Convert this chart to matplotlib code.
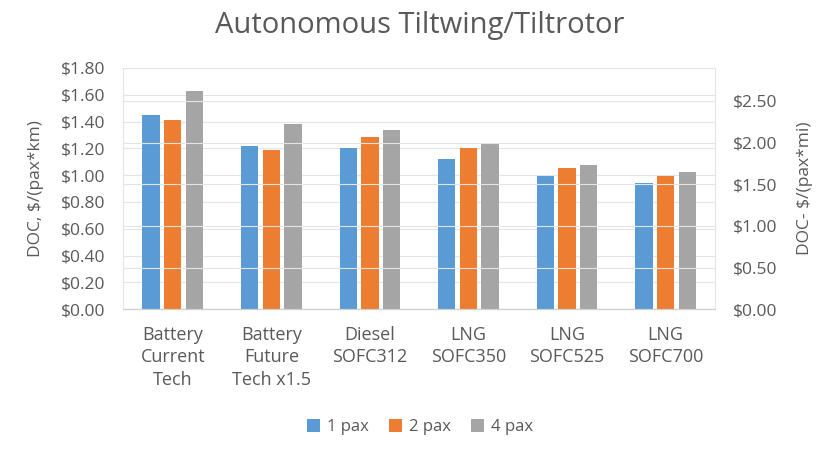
import numpy as np
import matplotlib.pyplot as plt
from matplotlib.ticker import FuncFormatter

plt.rcParams['font.family'] = ['Open Sans', 'DejaVu Sans']

categories = ["Battery\nCurrent\nTech", "Battery\nFuture\nTech x1.5", "Diesel\nSOFC312",
              "LNG\nSOFC350", "LNG\nSOFC525", "LNG\nSOFC700"]
pax1 = [1.45, 1.22, 1.20, 1.12, 0.99, 0.94]
pax2 = [1.41, 1.19, 1.285, 1.20, 1.05, 0.99]
pax4 = [1.63, 1.38, 1.34, 1.235, 1.075, 1.02]
series = [("1 pax", pax1, "#5B9BD5"), ("2 pax", pax2, "#ED7D31"), ("4 pax", pax4, "#A5A5A5")]
KM_PER_MI = 1.609

txt = "#595959"
fig = plt.figure(figsize=(8.4, 4.5), dpi=100)
ax = fig.add_axes([0.147, 0.313, 0.704, 0.536])
ax2 = ax.twinx()

x = np.arange(len(categories))
w = 0.176
step = 0.22
for i, (lab, vals, col) in enumerate(series):
    ax.bar(x + (i - 1) * step, vals, w, color=col, label=lab, zorder=3)

ax.set_xlim(-0.5, len(categories) - 0.5)
ax.set_ylim(0, 1.8)
ax.set_yticks(np.arange(0, 1.81, 0.2))
ax2.set_ylim(0, 1.8 * KM_PER_MI)
ax2.set_yticks(np.arange(0, 2.51, 0.5))

money = FuncFormatter(lambda v, p: "${:.2f}".format(v))
ax.yaxis.set_major_formatter(money)
ax2.yaxis.set_major_formatter(money)

ax.grid(axis='y', color='#E4E4E4', lw=0.8, zorder=0)
for v in np.arange(0, 2.51, 0.5):
    ax2.axhline(v, color='#E4E4E4', lw=0.8, zorder=0)

ax.set_xticks(x)
ax.set_xticklabels(categories, fontsize=13, color=txt, linespacing=1.33)
for a in (ax, ax2):
    a.tick_params(axis='y', labelsize=12.5, labelcolor=txt, length=0, pad=13)
    for s in a.spines.values():
        s.set_visible(False)
    a.spines['bottom'].set_visible(True)
    a.spines['bottom'].set_color('#D0D0D0')
ax.spines['left'].set_visible(True)
ax.spines['left'].set_color('#E4E4E4')
ax2.spines['right'].set_visible(True)
ax2.spines['right'].set_color('#E4E4E4')
ax.tick_params(axis='x', length=0, pad=12)

ax.set_ylabel("DOC, $/(pax*km)", fontsize=12.5, color=txt, labelpad=12)
ax2.set_ylabel("DOC- $/(pax*mi)", fontsize=12.5, color=txt, labelpad=14)

fig.suptitle("Autonomous Tiltwing/Tiltrotor", fontsize=21, color=txt, y=0.975)

handles, labels = ax.get_legend_handles_labels()
fig.legend(handles, labels, loc='center', bbox_to_anchor=(0.5, 0.051), ncol=3,
           frameon=False, fontsize=12, labelcolor=txt, handlelength=0.8,
           handleheight=0.8, handletextpad=0.4, columnspacing=1.2)

fig.savefig("out.png", dpi=100)
